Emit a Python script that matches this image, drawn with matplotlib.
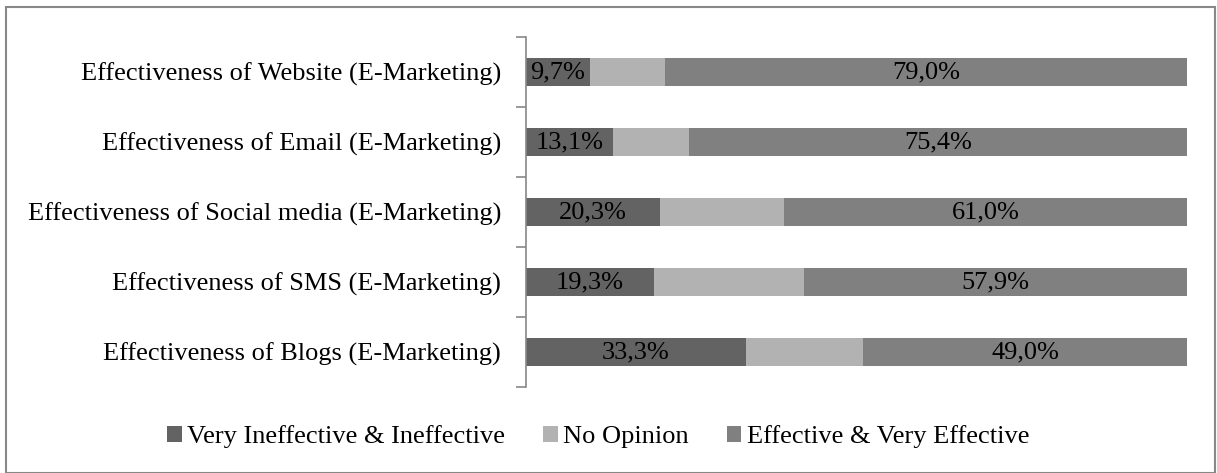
import matplotlib.pyplot as plt
from matplotlib.patches import Rectangle
import numpy as np

plt.rcParams['font.family'] = ['Liberation Serif', 'DejaVu Serif']

# data (bottom to top as drawn)
categories = [
    'Effectiveness of Blogs (E-Marketing)',
    'Effectiveness of SMS (E-Marketing)',
    'Effectiveness of Social media (E-Marketing)',
    'Effectiveness of Email (E-Marketing)',
    'Effectiveness of Website (E-Marketing)',
]
ineffective = [33.3, 19.3, 20.3, 13.1, 9.7]
no_opinion = [17.7, 22.8, 18.7, 11.5, 11.3]
effective = [49.0, 57.9, 61.0, 75.4, 79.0]
series_names = ['Very Ineffective & Ineffective', 'No Opinion', 'Effective & Very Effective']
colors = ['#636363', '#b2b2b2', '#808080']

FS = 19

fig = plt.figure(figsize=(12.17, 4.73), dpi=100)
ax = fig.add_axes((526 / 1217, 86 / 473, 661 / 1217, 350 / 473))

y = np.arange(len(categories))
left = np.zeros(len(categories))
bars = []
for vals, name, c in zip([ineffective, no_opinion, effective], series_names, colors):
    b = ax.barh(y, vals, left=left, height=0.4, color=c, label=name)
    bars.append(b)
    left = left + np.array(vals)

# labels on first and last series only
for b, vals in [(bars[0], ineffective), (bars[2], effective)]:
    labels = [('%.1f%%' % v).replace('.', ',') for v in vals]
    ax.bar_label(b, labels=labels, label_type='center', fontsize=FS, color='black')

ax.set_xlim(0, 100)
ax.set_ylim(-0.5, len(categories) - 0.5)
ax.set_yticks(y)
ax.set_yticklabels(categories, fontsize=FS)
ax.set_yticks(np.arange(-0.5, len(categories)), minor=True)
ax.tick_params(axis='y', which='major', length=0, pad=18)
ax.tick_params(axis='y', which='minor', length=7, width=1.2, color='#888888')
ax.set_xticks([])
for s in ['top', 'right', 'bottom']:
    ax.spines[s].set_visible(False)
ax.spines['left'].set_color('#888888')
ax.spines['left'].set_linewidth(1.2)

fig.legend(loc='center', bbox_to_anchor=(598 / 1217, 36 / 473), ncol=3, frameon=False,
           fontsize=FS, handlelength=0.55, handleheight=0.55, handletextpad=0.2,
           columnspacing=1.45)

# outer frame
fig.patches.append(Rectangle((6 / 1217, 0.5 / 473), 1209 / 1217, 465 / 473,
                             transform=fig.transFigure, fill=False,
                             edgecolor='#888888', linewidth=1.5))

fig.savefig('out.png', dpi=100)
